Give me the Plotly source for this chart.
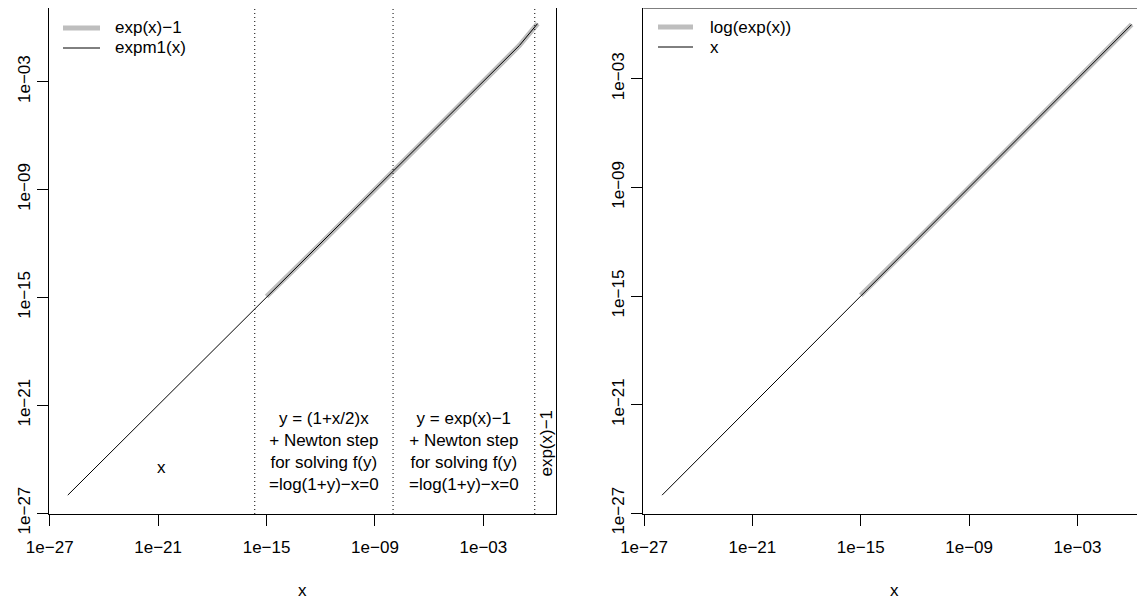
import math
import plotly.graph_objects as go

# ---- data ----
x_all = [1e-26, 1e-25, 1e-24, 1e-23, 1e-22, 1e-21, 1e-20, 1e-19, 1e-18,
         1e-17, 1e-16, 1e-15, 1e-14, 1e-13, 1e-12, 1e-11, 1e-10, 1e-09,
         1e-08, 1e-07, 1e-06, 1e-05, 1e-04, 1e-03, 1e-02, 1e-01, 1.0]
expm1_y = [1e-26, 1e-25, 1e-24, 1e-23, 1e-22, 1e-21, 1e-20, 1e-19, 1e-18,
           1e-17, 1e-16, 1e-15, 1e-14, 1e-13, 1e-12, 1e-11, 1e-10, 1e-09,
           1e-08, 1.0000001e-07, 1.0000005e-06, 1.000005e-05, 1.00005e-04,
           1.0005002e-03, 1.0050167e-02, 1.0517092e-01, 1.7182818]
x_naive = [1e-15, 1e-14, 1e-13, 1e-12, 1e-11, 1e-10, 1e-09, 1e-08, 1e-07,
           1e-06, 1e-05, 1e-04, 1e-03, 1e-02, 1e-01, 1.0]
expx_minus1_y = [1.110223e-15, 9.992007e-15, 9.992007e-14, 1.000089e-12,
                 1.000000e-11, 1.000000e-10, 1.000000e-09, 9.999999e-09,
                 1.0000001e-07, 1.0000005e-06, 1.000005e-05, 1.00005e-04,
                 1.0005002e-03, 1.0050167e-02, 1.0517092e-01, 1.7182818]
logexp_y = [1.110223e-15, 9.992007e-15, 9.992007e-14, 1.000089e-12,
            1.000000e-11, 1.000000e-10, 1.000000e-09, 9.999999e-09,
            1.0e-07, 1.0e-06, 1.0e-05, 1.0e-04, 1.0e-03, 1.0e-02, 1.0e-01, 1.0]
identity_y = x_all

thresholds = [2.220446e-16, 1e-08, 0.697]

tick_vals = [1e-27, 1e-21, 1e-15, 1e-09, 1e-03]
tick_text = ["1e\u221227", "1e\u221221", "1e\u221215", "1e\u221209", "1e\u221203"]

region_labels = ["x",
                 "y = (1+x/2)x<br>+ Newton step<br>for solving f(y)<br>=log(1+y)\u2212x=0",
                 "y = exp(x)\u22121<br>+ Newton step<br>for solving f(y)<br>=log(1+y)\u2212x=0",
                 "exp(x)\u22121"]
region_x = [10 ** -20.83, 10 ** -11.83, 10 ** -4.08, 10 ** 0.44]
region_y = [10 ** -24.44, 10 ** -23.58, 10 ** -23.58, 10 ** -23.1]
region_angle = [0, 0, 0, -90]

legend1_names = ["exp(x)\u22121", "expm1(x)"]
legend2_names = ["log(exp(x))", "x"]

FONT = "Liberation Sans, Arial, Helvetica, sans-serif"
FS = 17
GRAY = "#BEBEBE"

W, H = 1137, 591
ML, MT, MB = 41, 0, 85
PW, PH = W - ML, H - MT - MB


def px(fx):
    return (fx - ML) / PW


def py(fy):
    return (H - MB - fy) / PH


fig = go.Figure()

# left panel
fig.add_trace(go.Scatter(x=x_naive, y=expx_minus1_y, mode="lines",
                         line=dict(color=GRAY, width=5), name=legend1_names[0],
                         xaxis="x", yaxis="y", showlegend=False))
fig.add_trace(go.Scatter(x=x_all, y=expm1_y, mode="lines",
                         line=dict(color="black", width=1), name=legend1_names[1],
                         xaxis="x", yaxis="y", showlegend=False))
# right panel
fig.add_trace(go.Scatter(x=x_naive, y=logexp_y, mode="lines",
                         line=dict(color=GRAY, width=5), name=legend2_names[0],
                         xaxis="x2", yaxis="y2", showlegend=False))
fig.add_trace(go.Scatter(x=x_all, y=identity_y, mode="lines",
                         line=dict(color="black", width=1), name=legend2_names[1],
                         xaxis="x2", yaxis="y2", showlegend=False))

shapes = []
for t in thresholds:
    shapes.append(dict(type="line", xref="x", yref="y domain", x0=t, x1=t, y0=0, y1=1,
                       line=dict(color="black", width=1, dash="1px,3px")))
# top border of right panel (right border lies outside the picture)
shapes.append(dict(type="line", xref="x2 domain", yref="y2 domain", x0=0, x1=1, y0=1, y1=1,
                   line=dict(color="black", width=1)))

annotations = []
for lab, xx, yy, ang in zip(region_labels, region_x, region_y, region_angle):
    annotations.append(dict(text=lab, x=math.log10(xx), y=math.log10(yy), xref="x", yref="y",
                            showarrow=False, textangle=ang, align="center",
                            font=dict(family=FONT, size=FS, color="black"),
                            xanchor="center", yanchor="middle"))
# x axis titles
for xr in ["x domain", "x2 domain"]:
    annotations.append(dict(text="x", x=0.5, xref=xr, y=py(582), yref="paper",
                            showarrow=False, xanchor="center", yanchor="middle",
                            font=dict(family=FONT, size=FS, color="black")))

# legends (no box, like R's bty="n")
legend_specs = [(legend1_names, 55, 92, 105, 20), (legend2_names, 650, 685, 700, 19)]
for names, lx0, lx1, tx, ly in legend_specs:
    for i, (name, col, wd) in enumerate(zip(names, [GRAY, "black"], [5, 1])):
        yy = ly + 20 * i
        shapes.append(dict(type="line", xref="paper", yref="paper",
                           x0=px(lx0), x1=px(lx1), y0=py(yy), y1=py(yy),
                           line=dict(color=col, width=wd)))
        annotations.append(dict(text=name, x=px(tx), y=py(yy), xref="paper", yref="paper",
                                showarrow=False, xanchor="left", yanchor="middle",
                                font=dict(family=FONT, size=FS, color="black")))

axis_common = dict(type="log", showgrid=False, zeroline=False, showline=True,
                   linecolor="black", linewidth=1, ticks="outside", ticklen=11,
                   tickwidth=1, tickcolor="black", tickvals=tick_vals, ticktext=tick_text,
                   tickfont=dict(family=FONT, size=FS, color="black"), automargin=False)

fig.update_layout(
    width=W, height=H,
    margin=dict(l=ML, r=0, t=MT, b=MB, autoexpand=False),
    paper_bgcolor="white", plot_bgcolor="white",
    font=dict(family=FONT, size=FS, color="black"),
    showlegend=False,
    xaxis=dict(axis_common, domain=[0, 0.46296], range=[-27.04, 1.04], mirror=True,
               anchor="y", ticklabelstandoff=7),
    yaxis=dict(axis_common, domain=[0, 1], range=[-27.05, 1.10], mirror=True,
               anchor="x", tickangle=-90, ticklabelstandoff=0),
    xaxis2=dict(axis_common, domain=[0.54224, 1], range=[-27.04, 0.739],
                anchor="y2", ticklabelstandoff=7),
    yaxis2=dict(axis_common, domain=[0, 1], range=[-27.04, 0.913],
                anchor="x2", tickangle=-90, ticklabelstandoff=0),
    shapes=shapes,
    annotations=annotations,
)

fig.write_html("out.html")
